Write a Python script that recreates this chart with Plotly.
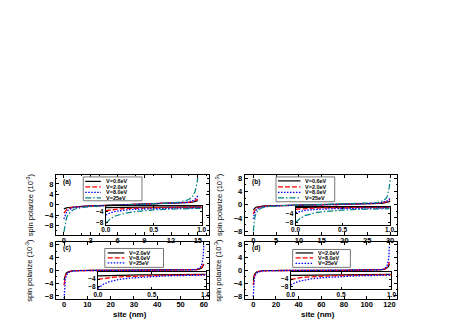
import plotly.graph_objects as go

W, H = 463, 327

# ---------------- data ----------------
# panel (a): 15 nm
xa = [0, 0.1, 0.2, 0.3, 0.5, 0.75, 1.0, 1.5, 2, 3, 4, 5, 6, 7.5, 9, 10, 11, 12, 13, 13.5, 14, 14.3, 14.5, 14.7, 14.8, 14.9, 15]
a_v06 = [-1.6, -1.4, -1.3, -1.2, -1.05, -0.95, -0.85, -0.7, -0.6, -0.45, -0.35, -0.25, -0.15, 0, 0.15, 0.25, 0.35, 0.45, 0.6, 0.7, 0.85, 0.95, 1.05, 1.2, 1.3, 1.4, 1.6]
a_v2 = [-3.2, -2.6, -2.2, -1.9, -1.5, -1.2, -1.0, -0.8, -0.65, -0.5, -0.38, -0.27, -0.16, 0, 0.16, 0.27, 0.38, 0.5, 0.65, 0.78, 0.95, 1.1, 1.3, 1.55, 1.75, 1.95, 2.2]
a_v8 = [-5.5, -4.2, -3.3, -2.7, -2.0, -1.5, -1.2, -0.9, -0.7, -0.52, -0.4, -0.28, -0.17, 0, 0.17, 0.28, 0.4, 0.52, 0.7, 0.85, 1.1, 1.4, 1.7, 2.2, 2.5, 2.9, 3.4]
a_v25 = [-10.5, -8.0, -6.2, -5.0, -3.6, -2.6, -2.0, -1.4, -1.05, -0.7, -0.5, -0.33, -0.2, 0, 0.2, 0.33, 0.5, 0.7, 1.05, 1.4, 2.0, 2.8, 3.6, 5.2, 6.5, 8.2, 10.3]

# panel (b): 30 nm
xb = [0, 0.15, 0.3, 0.5, 0.75, 1, 1.5, 2, 3, 4, 6, 8, 10, 12, 15, 18, 20, 22, 24, 26, 27, 28, 28.5, 29, 29.3, 29.5, 29.7, 29.85, 30]
b_v06 = [-1.5, -1.2, -1.0, -0.85, -0.7, -0.6, -0.5, -0.42, -0.33, -0.27, -0.2, -0.14, -0.09, -0.05, 0, 0.05, 0.09, 0.14, 0.2, 0.27, 0.33, 0.42, 0.5, 0.6, 0.7, 0.78, 0.85, 0.95, 1.05]
b_v2 = [-2.8, -2.1, -1.7, -1.35, -1.05, -0.85, -0.65, -0.52, -0.4, -0.32, -0.23, -0.16, -0.1, -0.05, 0, 0.05, 0.1, 0.16, 0.23, 0.32, 0.4, 0.52, 0.62, 0.75, 0.88, 1.0, 1.15, 1.35, 1.6]
b_v8 = [-4.3, -3.0, -2.3, -1.8, -1.4, -1.1, -0.8, -0.62, -0.45, -0.35, -0.25, -0.17, -0.1, -0.05, 0, 0.05, 0.1, 0.17, 0.25, 0.35, 0.45, 0.62, 0.75, 0.9, 1.1, 1.3, 1.5, 1.75, 2.1]
b_v25 = [-8.0, -5.5, -4.0, -3.0, -2.2, -1.7, -1.2, -0.9, -0.6, -0.45, -0.3, -0.2, -0.12, -0.06, 0, 0.06, 0.12, 0.2, 0.3, 0.45, 0.6, 0.9, 1.2, 1.7, 2.3, 3.0, 4.2, 5.5, 7.6]

# panel (c): 60 nm
xc = [0, 0.2, 0.4, 0.6, 0.8, 1, 1.5, 2, 3, 4, 6, 10, 20, 30, 40, 50, 54, 56, 57, 58, 58.5, 59, 59.3, 59.6, 59.8, 60]
c_v2 = [-3.0, -2.2, -1.7, -1.3, -1.05, -0.85, -0.55, -0.38, -0.2, -0.12, -0.06, -0.02, -0.01, 0, 0.01, 0.02, 0.06, 0.12, 0.2, 0.38, 0.5, 0.75, 0.95, 1.3, 1.6, 2.0]
c_v8 = [-4.6, -3.2, -2.4, -1.8, -1.4, -1.1, -0.7, -0.45, -0.25, -0.15, -0.07, -0.03, -0.01, 0, 0.01, 0.03, 0.07, 0.15, 0.25, 0.45, 0.62, 0.9, 1.15, 1.6, 2.0, 2.6]
c_v25 = [-8.8, -5.5, -3.8, -2.8, -2.1, -1.6, -1.0, -0.65, -0.35, -0.2, -0.1, -0.04, -0.01, 0, 0.01, 0.04, 0.1, 0.2, 0.35, 0.65, 1.0, 1.6, 2.3, 3.6, 5.2, 8.2]

# panel (d): 120 nm
xd = [0, 0.3, 0.6, 1, 1.5, 2, 3, 4, 6, 8, 12, 20, 40, 60, 80, 100, 108, 112, 114, 116, 117, 118, 118.7, 119.3, 119.7, 120]
d_v2 = [-3.2, -2.3, -1.75, -1.3, -1.0, -0.8, -0.5, -0.35, -0.2, -0.12, -0.06, -0.02, -0.01, 0, 0.01, 0.02, 0.06, 0.12, 0.2, 0.35, 0.5, 0.8, 1.0, 1.3, 1.6, 2.0]
d_v8 = [-4.6, -3.2, -2.4, -1.8, -1.35, -1.05, -0.65, -0.45, -0.25, -0.15, -0.07, -0.03, -0.01, 0, 0.01, 0.03, 0.07, 0.15, 0.25, 0.45, 0.65, 1.05, 1.35, 1.8, 2.2, 2.6]
d_v25 = [-8.2, -5.2, -3.6, -2.6, -1.9, -1.45, -0.9, -0.6, -0.33, -0.2, -0.1, -0.04, -0.01, 0, 0.01, 0.04, 0.1, 0.2, 0.33, 0.6, 0.9, 1.45, 2.2, 3.5, 5.2, 7.8]

# insets: first nm
xi = [0, 0.05, 0.1, 0.15, 0.2, 0.3, 0.4, 0.5, 0.6, 0.7, 0.8, 0.9, 1.0]
ia_v06 = [-2.5, -2.45, -2.4, -2.38, -2.35, -2.32, -2.3, -2.28, -2.26, -2.25, -2.24, -2.23, -2.22]
ia_v2 = [-3.6, -3.3, -3.1, -2.95, -2.85, -2.7, -2.6, -2.55, -2.5, -2.47, -2.44, -2.42, -2.4]
ia_v8 = [-5.2, -4.4, -3.9, -3.6, -3.4, -3.1, -2.95, -2.85, -2.78, -2.72, -2.67, -2.63, -2.6]
ia_v25 = [-8.3, -6.6, -5.6, -5.0, -4.6, -4.0, -3.6, -3.35, -3.15, -3.0, -2.9, -2.82, -2.75]

ib_v06 = [-1.3, -1.28, -1.26, -1.25, -1.24, -1.22, -1.21, -1.2, -1.19, -1.18, -1.17, -1.16, -1.15]
ib_v2 = [-2.1, -1.9, -1.75, -1.65, -1.6, -1.5, -1.45, -1.42, -1.4, -1.38, -1.36, -1.35, -1.34]
ib_v8 = [-3.6, -3.0, -2.6, -2.35, -2.2, -2.0, -1.85, -1.75, -1.68, -1.63, -1.58, -1.55, -1.52]
ib_v25 = [-7.9, -6.0, -4.9, -4.2, -3.7, -3.1, -2.7, -2.45, -2.25, -2.1, -2.0, -1.92, -1.85]

ic_v2 = [-2.2, -2.1, -2.0, -1.95, -1.9, -1.8, -1.72, -1.65, -1.6, -1.55, -1.5, -1.45, -1.4]
ic_v8 = [-4.1, -3.6, -3.2, -2.95, -2.75, -2.45, -2.25, -2.1, -1.95, -1.85, -1.75, -1.65, -1.58]
ic_v25 = [-9.0, -6.8, -5.5, -4.7, -4.1, -3.4, -2.95, -2.6, -2.35, -2.15, -2.0, -1.85, -1.75]

id_v2 = [-2.0, -1.95, -1.9, -1.85, -1.8, -1.72, -1.65, -1.6, -1.55, -1.5, -1.45, -1.42, -1.38]
id_v8 = [-4.2, -3.6, -3.2, -2.9, -2.7, -2.4, -2.2, -2.05, -1.92, -1.82, -1.72, -1.65, -1.58]
id_v25 = [-7.2, -5.8, -4.9, -4.3, -3.9, -3.3, -2.9, -2.6, -2.35, -2.15, -2.0, -1.88, -1.78]

labels_ab = ["V=0.6eV", "V=2.0eV", "V=8.0eV", "V=25eV"]
labels_cd = ["V=2.0eV", "V=8.0eV", "V=25eV"]
xticks_a = [0, 3, 6, 9, 12, 15]
xticks_b = [0, 5, 10, 15, 20, 25, 30]
xticks_c = [0, 10, 20, 30, 40, 50, 60]
xticks_d = [0, 20, 40, 60, 80, 100, 120]
yticks_main = [-8, -4, 0, 4, 8]
yticks_inset = [-8, -4]
xticks_inset = [0.0, 0.5, 1.0]

# ---------------- styles ----------------
FONT = "Liberation Sans, Arial, sans-serif"
BLACK = dict(color="black", width=1.2, dash="solid")
RED = dict(color="#FF0000", width=1.3, dash="5px,2px")
BLUE = dict(color="#0000FF", width=1.3, dash="1.5px,1.5px")
CYAN = dict(color="#008080", width=1.2, dash="6px,2px,1.5px,2px")
styles_ab = [BLACK, RED, BLUE, CYAN]
styles_cd = [BLACK, RED, BLUE]


def px(x):
    return x / W


def py(y):
    return 1 - y / H


fig = go.Figure()

panels = [
    dict(ax="", box=(52, 208, 175, 235), xr=[-0.9, 16.2], yr=[-11.5, 11.5], xt=xticks_a,
         x=xa, ys=[a_v06, a_v2, a_v8, a_v25], labels=labels_ab, styles=styles_ab,
         inset=dict(ax="5", box=(103, 201, 206, 225), yr=[-8.8, -1.8], ys=[ia_v06, ia_v2, ia_v8, ia_v25]),
         tag="(a)", legend=dict(box=(80, 140, 177, 201), line=(82, 98), tx=101, rows=[181.5, 187, 192.5, 198])),
    dict(ax="2", box=(245, 401, 175, 235), xr=[-1.9, 31.6], yr=[-9, 9], xt=xticks_b,
         x=xb, ys=[b_v06, b_v2, b_v8, b_v25], labels=labels_ab, styles=styles_ab,
         inset=dict(ax="6", box=(297, 393, 207, 225), yr=[-8.8, -1.0], ys=[ib_v06, ib_v2, ib_v8, ib_v25]),
         tag="(b)", legend=dict(box=(277, 337, 177, 202), line=(279, 302), tx=305, rows=[181, 187, 192.5, 198])),
    dict(ax="3", box=(52, 208, 242, 300), xr=[-3.5, 62], yr=[-9, 9], xt=xticks_c,
         x=xc, ys=[c_v2, c_v8, c_v25], labels=labels_cd, styles=styles_cd,
         inset=dict(ax="7", box=(95, 205, 273, 290), yr=[-9.5, -0.3], ys=[ic_v2, ic_v8, ic_v25]),
         tag="(c)", legend=dict(box=(102, 162, 249, 268), line=(105, 122), tx=125, rows=[253.5, 258.5, 263.5])),
    dict(ax="4", box=(245, 401, 242, 300), xr=[-7.5, 127], yr=[-9, 9], xt=xticks_d,
         x=xd, ys=[d_v2, d_v8, d_v25], labels=labels_cd, styles=styles_cd,
         inset=dict(ax="8", box=(292, 395, 273, 290), yr=[-9.5, -0.3], ys=[id_v2, id_v8, id_v25]),
         tag="(d)", legend=dict(box=(294, 353, 250, 268), line=(297, 315), tx=318, rows=[253.5, 258.5, 264])),
]

axis_common = dict(showline=True, linecolor="black", linewidth=1, mirror="ticks",
                   ticks="inside", tickwidth=1, tickcolor="black",
                   showgrid=False, zeroline=False)

shapes = []
annotations = []

for p in panels:
    a = p["ax"]
    x0, x1, y0, y1 = p["box"]
    for ys, lab, st in zip(p["ys"], p["labels"], p["styles"]):
        fig.add_trace(go.Scatter(x=p["x"], y=ys, mode="lines", name=lab, line=st,
                                 xaxis="x" + a, yaxis="y" + a, showlegend=False))
    fig.update_layout(**{
        "xaxis" + a: dict(domain=[px(x0), px(x1)], range=p["xr"], tickvals=p["xt"], anchor="y" + a,
                          ticklen=3, ticklabelstandoff=-2,
                          tickfont=dict(family=FONT, size=7.5, color="black", weight="bold"),
                          minor=dict(ticks="inside", ticklen=1.5, tickcolor="black", nticks=2),
                          **axis_common),
        "yaxis" + a: dict(domain=[py(y1), py(y0)], range=p["yr"], tickvals=yticks_main, anchor="x" + a,
                          ticklen=3,
                          tickfont=dict(family=FONT, size=7.5, color="black", weight="bold"),
                          minor=dict(ticks="inside", ticklen=1.5, tickcolor="black", nticks=2),
                          **axis_common),
    })
    # inset
    ins = p["inset"]
    ia = ins["ax"]
    ix0, ix1, iy0, iy1 = ins["box"]
    shapes.append(dict(type="rect", xref="paper", yref="paper", x0=px(ix0), x1=px(ix1),
                       y0=py(iy1), y1=py(iy0), fillcolor="white", line=dict(width=0), layer="below"))
    for ys, lab, st in zip(ins["ys"], p["labels"], p["styles"]):
        fig.add_trace(go.Scatter(x=xi, y=ys, mode="lines", name=lab, line=st,
                                 xaxis="x" + ia, yaxis="y" + ia, showlegend=False))
    fig.update_layout(**{
        "xaxis" + ia: dict(domain=[px(ix0), px(ix1)], range=[0, 1], tickvals=xticks_inset,
                           tickformat=".1f", anchor="y" + ia, ticklen=2, ticklabelstandoff=-1,
                           tickfont=dict(family=FONT, size=6.5, color="black", weight="bold"),
                           **axis_common),
        "yaxis" + ia: dict(domain=[py(iy1), py(iy0)], range=ins["yr"], tickvals=yticks_inset,
                           anchor="x" + ia, ticklen=2,
                           tickfont=dict(family=FONT, size=6.5, color="black", weight="bold"),
                           **axis_common),
    })
    # panel tag
    annotations.append(dict(text="<b>" + p["tag"] + "</b>", xref="paper", yref="paper",
                            x=px(x0 + 5), y=py(y0 + 7), xanchor="left", yanchor="middle",
                            showarrow=False, font=dict(family=FONT, size=6.5, color="black")))
    # y title
    annotations.append(dict(text="spin polarize (10<sup>-3</sup>)", xref="paper", yref="paper",
                            x=px(x0 - 27), y=py((y0 + y1) / 2), textangle=-90,
                            xanchor="center", yanchor="middle", showarrow=False,
                            font=dict(family=FONT, size=7.5, color="black")))
    # legend box
    lg = p["legend"]
    lx0, lx1, ly0, ly1 = lg["box"]
    shapes.append(dict(type="rect", xref="paper", yref="paper", x0=px(lx0), x1=px(lx1),
                       y0=py(ly1), y1=py(ly0), fillcolor="white",
                       line=dict(color="#777777", width=1)))
    for row, lab, st in zip(lg["rows"], p["labels"], p["styles"]):
        shapes.append(dict(type="line", xref="paper", yref="paper", x0=px(lg["line"][0]),
                           x1=px(lg["line"][1]), y0=py(row), y1=py(row),
                           line=dict(color=st["color"], width=st["width"], dash=st["dash"])))
        annotations.append(dict(text="<b>" + lab + "</b>", xref="paper", yref="paper",
                                x=px(lg["tx"]), y=py(row), xanchor="left", yanchor="middle",
                                showarrow=False, font=dict(family=FONT, size=5.5, color="black")))

# x titles
for cx in (128, 320):
    annotations.append(dict(text="<b>site (nm)</b>", xref="paper", yref="paper",
                            x=px(cx), y=py(315.5), xanchor="center", yanchor="middle",
                            showarrow=False, font=dict(family=FONT, size=8, color="black")))

fig.update_layout(width=W, height=H, margin=dict(l=0, r=0, t=0, b=0),
                  paper_bgcolor="white", plot_bgcolor="rgba(0,0,0,0)",
                  shapes=shapes, annotations=annotations, showlegend=False)

fig.write_html("out.html", config={"displayModeBar": False},
               post_script="document.body.style.margin='0px';document.body.style.overflow='hidden';")
